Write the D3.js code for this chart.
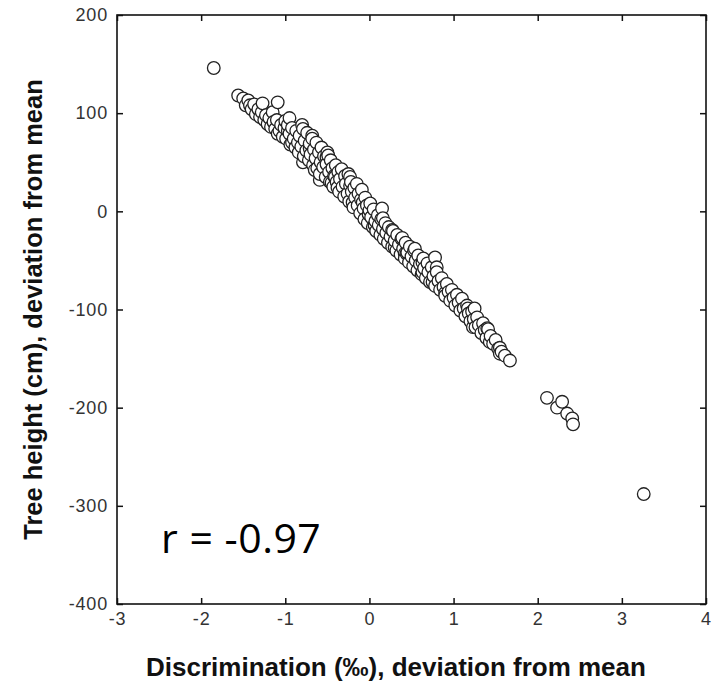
<!DOCTYPE html>
<html>
<head>
<meta charset="utf-8">
<script src="https://cdn.jsdelivr.net/npm/d3@7"></script>
<style>
  body { margin: 0; background: #fff; }
  svg { display: block; }
  .tick text { font-family: "Liberation Sans", Arial, sans-serif; font-size: 18px; letter-spacing: 0.8px; fill: #333; }
</style>
</head>
<body>
<svg id="chart" width="719" height="687"></svg>
<script>
// discrimination deviation (permil), tree height deviation (cm)
const bandPoints = [
  [-1.56,118],[-1.50,115],[-1.47,108],[-1.44,113],[-1.42,108],[-1.40,104],[-1.37,109],[-1.35,99],
  [-1.32,104],[-1.30,96],[-1.28,101],[-1.27,110],[-1.25,93],[-1.23,98],[-1.21,89],[-1.19,95],
  [-1.17,86],[-1.15,101],[-1.14,91],[-1.12,84],[-1.10,93],[-1.09,111],[-1.09,79],[-1.07,82],
  [-1.05,88],[-1.03,76],[-1.01,85],[-1.00,92],[-0.99,74],[-0.97,82],[-0.97,88],[-0.95,95],
  [-0.95,79],[-0.94,68],[-0.92,70],[-0.92,85],[-0.90,74],[-0.88,65],[-0.87,82],[-0.85,70],
  [-0.84,60],[-0.83,77],[-0.81,66],[-0.80,88],[-0.79,50],[-0.79,84],[-0.78,56],[-0.77,72],
  [-0.75,62],[-0.74,80],[-0.72,52],[-0.71,64],[-0.71,69],[-0.70,58],[-0.68,77],[-0.68,74],
  [-0.67,47],[-0.66,63],[-0.65,42],[-0.64,54],[-0.63,70],[-0.62,44],[-0.60,60],[-0.59,32],
  [-0.59,38],[-0.58,50],[-0.57,65],[-0.55,45],[-0.54,56],[-0.52,35],[-0.51,55],[-0.51,48],
  [-0.50,60],[-0.49,57],[-0.48,40],[-0.47,30],[-0.46,52],[-0.45,29],[-0.44,44],[-0.43,25],
  [-0.42,36],[-0.41,35],[-0.40,47],[-0.39,30],[-0.38,24],[-0.37,40],[-0.36,20],[-0.35,33],
  [-0.33,43],[-0.32,25],[-0.30,15],[-0.29,36],[-0.28,28],[-0.26,18],[-0.25,38],[-0.24,10],
  [-0.23,35],[-0.23,26],[-0.22,30],[-0.21,20],[-0.20,9],[-0.19,4],[-0.18,24],[-0.17,14],
  [-0.15,28],[-0.14,6],[-0.13,18],[-0.11,-2],[-0.10,12],[-0.09,22],[-0.08,9],[-0.07,3],
  [-0.06,-8],[-0.05,14],[-0.03,6],[-0.02,-12],[-0.01,-3],[0.00,1],[0.01,8],[0.02,-6],
  [0.04,-16],[0.05,2],[0.06,-14],[0.07,-10],[0.08,-20],[0.10,-4],[0.11,-14],[0.13,-24],
  [0.14,-8],[0.15,3],[0.16,-7],[0.16,-18],[0.17,-28],[0.19,-12],[0.20,-22],[0.22,-32],
  [0.23,-16],[0.25,-26],[0.27,-19],[0.27,-36],[0.28,-20],[0.30,-37],[0.30,-30],[0.32,-40],
  [0.33,-24],[0.35,-34],[0.37,-44],[0.38,-28],[0.39,-27],[0.40,-38],[0.42,-43],[0.42,-48],
  [0.43,-32],[0.44,-43],[0.45,-42],[0.47,-52],[0.48,-36],[0.50,-46],[0.52,-56],[0.53,-40],
  [0.54,-38],[0.55,-50],[0.57,-60],[0.58,-45],[0.60,-54],[0.62,-64],[0.63,-52],[0.63,-62],
  [0.64,-48],[0.65,-58],[0.67,-68],[0.69,-53],[0.70,-62],[0.72,-72],[0.74,-57],[0.75,-72],
  [0.76,-66],[0.78,-47],[0.78,-76],[0.80,-57],[0.80,-62],[0.82,-71],[0.84,-80],[0.86,-68],
  [0.88,-77],[0.90,-83],[0.90,-86],[0.92,-74],[0.94,-82],[0.96,-91],[0.98,-80],[1.00,-88],
  [1.02,-96],[1.04,-85],[1.06,-93],[1.08,-101],[1.10,-89],[1.12,-99],[1.14,-107],[1.16,-96],
  [1.17,-99],[1.18,-104],[1.20,-112],[1.22,-102],[1.23,-118],[1.24,-110],[1.25,-99],[1.26,-118],
  [1.28,-108],[1.30,-116],[1.33,-124],[1.35,-114],[1.37,-121],[1.39,-129],[1.40,-119],[1.41,-120],
  [1.43,-133],[1.44,-127],[1.47,-135],[1.50,-131],[1.53,-140],[1.55,-139],[1.55,-145],[1.57,-143],
  [1.61,-147],[1.67,-152]
];
const outlierPoints = [
  [-1.85,146],[2.11,-190],[2.23,-200],[2.29,-194],[2.35,-206],[2.41,-211],[2.42,-217],[3.26,-288]
];

const xDomain = [-3, 4];
const yDomain = [-400, 200];
const xTicks = [-3, -2, -1, 0, 1, 2, 3, 4];
const yTicks = [-400, -300, -200, -100, 0, 100, 200];

const xTitle = "Discrimination (\u2030), deviation from mean";
const yTitle = "Tree height (cm), deviation from mean";
const corrText = "r = -0.97";

const margin = { left: 117, top: 15, right: 13, bottom: 83 };
const width = 719 - margin.left - margin.right;
const height = 687 - margin.top - margin.bottom;

const svg = d3.select("#chart");
const g = svg.append("g").attr("transform", `translate(${margin.left},${margin.top})`);

const x = d3.scaleLinear().domain(xDomain).range([0, width]);
const y = d3.scaleLinear().domain(yDomain).range([height, 0]);

const plain = d => String(d);

// axes with inward ticks on all four sides
g.append("g")
    .attr("transform", `translate(0,${height})`)
    .call(d3.axisBottom(x).tickValues(xTicks).tickFormat(plain).tickSizeInner(-6).tickSizeOuter(0).tickPadding(8))
    .call(a => a.select(".domain").remove());
g.append("g")
    .call(d3.axisLeft(y).tickValues(yTicks).tickFormat(plain).tickSizeInner(-6).tickSizeOuter(0).tickPadding(9))
    .call(a => a.select(".domain").remove());
g.append("g")
    .call(d3.axisTop(x).tickValues(xTicks).tickSizeInner(-6).tickSizeOuter(0).tickFormat(""))
    .call(a => a.select(".domain").remove());
g.append("g")
    .attr("transform", `translate(${width},0)`)
    .call(d3.axisRight(y).tickValues(yTicks).tickSizeInner(-6).tickSizeOuter(0).tickFormat(""))
    .call(a => a.select(".domain").remove());

g.selectAll(".tick line").attr("stroke", "#111").attr("stroke-width", 1.5);

g.append("rect")
    .attr("width", width)
    .attr("height", height)
    .attr("fill", "none")
    .attr("stroke", "#111")
    .attr("stroke-width", 1.6);

// points
g.append("g")
    .selectAll("circle")
    .data(bandPoints.concat(outlierPoints))
    .enter().append("circle")
    .attr("cx", d => x(d[0]))
    .attr("cy", d => y(d[1]))
    .attr("r", 6.3)
    .attr("fill", "#fff")
    .attr("stroke", "#222")
    .attr("stroke-width", 1.3);

// titles
svg.append("text")
    .attr("x", 396)
    .attr("y", 676)
    .attr("text-anchor", "middle")
    .style("font-family", "'Liberation Sans', Arial, sans-serif")
    .style("font-weight", "bold")
    .style("font-size", "26px")
    .attr("fill", "#111")
    .text(xTitle);

svg.append("text")
    .attr("transform", `translate(42,${margin.top + height / 2}) rotate(-90)`)
    .attr("text-anchor", "middle")
    .style("font-family", "'Liberation Sans', Arial, sans-serif")
    .style("font-weight", "bold")
    .style("font-size", "25.5px")
    .attr("fill", "#111")
    .text(yTitle);

svg.append("text")
    .attr("x", 161)
    .attr("y", 553)
    .style("font-family", "'Open Sans', 'Noto Sans', sans-serif")
    .style("font-size", "41px")
    .style("letter-spacing", "0.5px")
    .attr("fill", "#000")
    .text(corrText);
</script>
</body>
</html>
